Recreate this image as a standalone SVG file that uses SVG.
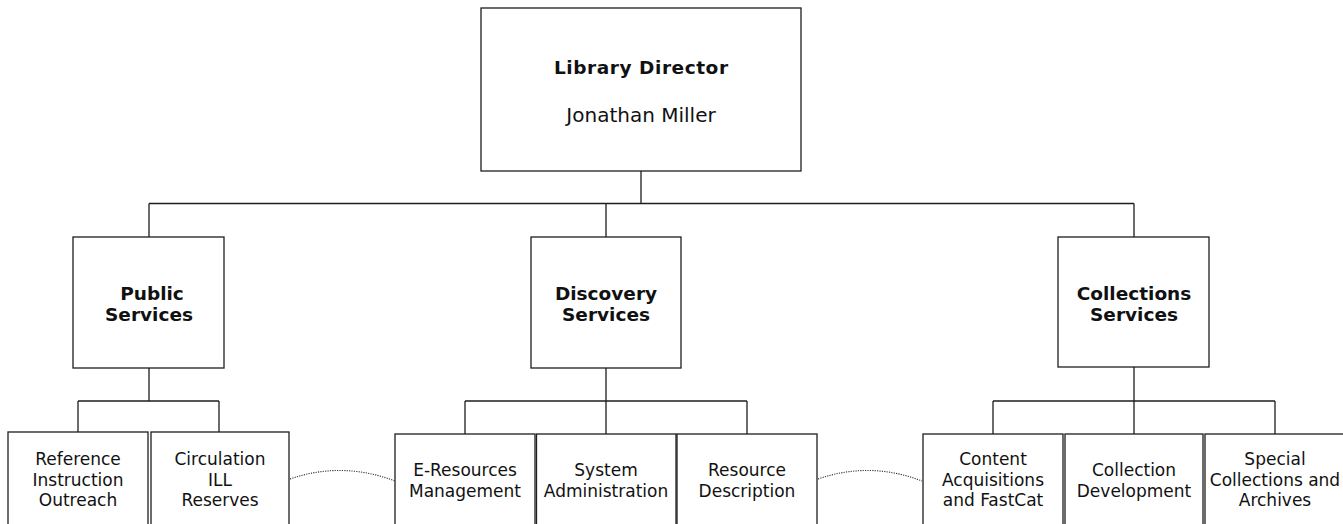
<svg xmlns="http://www.w3.org/2000/svg" width="1343" height="524" viewBox="0 0 1343 524">
  <style>
    .box { fill: #ffffff; stroke: #1e1e1e; stroke-width: 1.3; }
    .link { fill: none; stroke: #1e1e1e; stroke-width: 1.3; }
    .dots { fill: none; stroke: #333333; stroke-width: 1.1; stroke-dasharray: 1.2 1.2; }
    text { font-family: "DejaVu Sans", Verdana, sans-serif; fill: #111111; text-anchor: middle; }
    .title { font-weight: bold; font-size: 18.5px; }
    .name { font-size: 20px; }
    .unit { font-size: 17px; }
  </style>
  <rect width="1343" height="524" fill="#ffffff"/>

  <!-- reporting lines -->
  <g id="connectors">
    <path class="link" d="M641 171 V203.5 M149 203.5 H1134 M149 203.5 V237 M606 203.5 V237 M1134 203.5 V237"/>
    <path class="link" d="M149 368 V401 M78 401 H219 M78 401 V432 M219 401 V432"/>
    <path class="link" d="M606 368 V401 M465 401 H747 M465 401 V434 M606 401 V434 M747 401 V434"/>
    <path class="link" d="M1134 367 V401 M993 401 H1275 M993 401 V434 M1134 401 V434 M1275 401 V434"/>
    <path class="dots" d="M290 479 Q342 461 395 481"/>
    <path class="dots" d="M818 479 Q870 461 922 481"/>
  </g>

  <g id="director">
    <rect class="box" x="481" y="8" width="320" height="163"/>
    <text class="title" x="641" y="74" textLength="174" lengthAdjust="spacing">Library Director</text>
    <text class="name" x="641" y="122">Jonathan Miller</text>
  </g>

  <g id="public-services">
    <rect class="box" x="73" y="237" width="151" height="131"/>
    <text class="title" x="152" y="300">Public</text>
    <text class="title" x="149" y="321">Services</text>
  </g>

  <g id="discovery-services">
    <rect class="box" x="531" y="237" width="150" height="131"/>
    <text class="title" x="606" y="300">Discovery</text>
    <text class="title" x="606" y="321">Services</text>
  </g>

  <g id="collections-services">
    <rect class="box" x="1058" y="237" width="151" height="130"/>
    <text class="title" x="1134" y="300">Collections</text>
    <text class="title" x="1134" y="321">Services</text>
  </g>

  <g id="reference">
    <rect class="box" x="8" y="432" width="140" height="110"/>
    <text class="unit" x="78" y="465">Reference</text>
    <text class="unit" x="78" y="486">Instruction</text>
    <text class="unit" x="78" y="506">Outreach</text>
  </g>

  <g id="circulation">
    <rect class="box" x="151" y="432" width="138" height="110"/>
    <text class="unit" x="220" y="465">Circulation</text>
    <text class="unit" x="220" y="486">ILL</text>
    <text class="unit" x="220" y="506">Reserves</text>
  </g>

  <g id="e-resources">
    <rect class="box" x="395" y="434" width="140" height="108"/>
    <text class="unit" x="465" y="476">E-Resources</text>
    <text class="unit" x="465" y="497">Management</text>
  </g>

  <g id="system-administration">
    <rect class="box" x="536.5" y="434" width="139.5" height="108"/>
    <text class="unit" x="606" y="476">System</text>
    <text class="unit" x="606" y="497">Administration</text>
  </g>

  <g id="resource-description">
    <rect class="box" x="677" y="434" width="140" height="108"/>
    <text class="unit" x="747" y="476">Resource</text>
    <text class="unit" x="747" y="497">Description</text>
  </g>

  <g id="content-acquisitions">
    <rect class="box" x="923" y="434" width="140" height="108"/>
    <text class="unit" x="993" y="465">Content</text>
    <text class="unit" x="993" y="486">Acquisitions</text>
    <text class="unit" x="993" y="506">and FastCat</text>
  </g>

  <g id="collection-development">
    <rect class="box" x="1065" y="434" width="138" height="108"/>
    <text class="unit" x="1134" y="476">Collection</text>
    <text class="unit" x="1134" y="497">Development</text>
  </g>

  <g id="special-collections">
    <rect class="box" x="1205" y="434" width="140" height="108"/>
    <text class="unit" x="1275" y="465">Special</text>
    <text class="unit" x="1275" y="486">Collections and</text>
    <text class="unit" x="1275" y="506">Archives</text>
  </g>
</svg>
